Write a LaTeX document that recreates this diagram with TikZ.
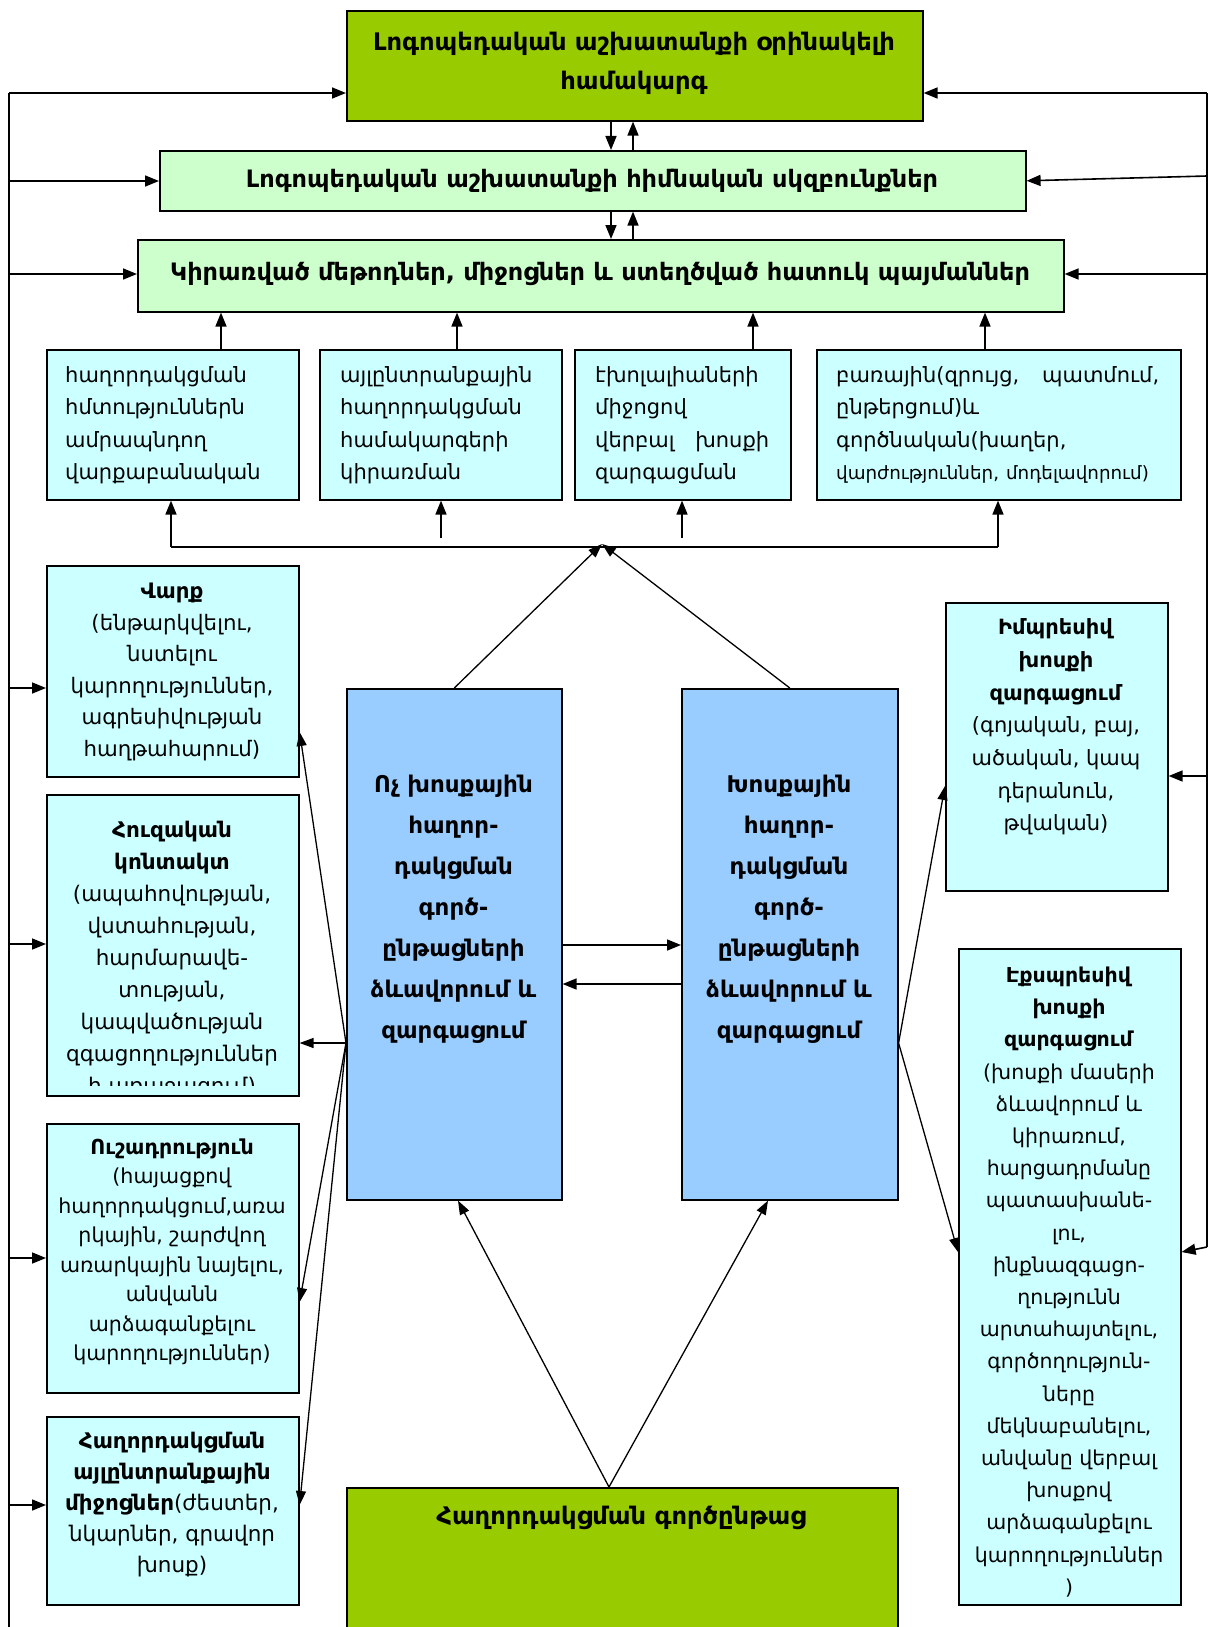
\documentclass[tikz,border=0pt]{standalone}
\usepackage{fontspec}
\setmainfont{DejaVu Sans}
\usetikzlibrary{arrows.meta,calc}
\definecolor{dgreen}{HTML}{99CC00}
\definecolor{lgreen}{HTML}{CCFFCC}
\definecolor{lcyan}{HTML}{CCFFFF}
\definecolor{lblue}{HTML}{99CCFF}
\begin{document}
\begin{tikzpicture}[x=1pt,y=-1pt,
  boxn/.style={draw, line width=1.6pt, inner sep=0pt, anchor=north west},
  conn/.style={line width=1.6pt},
  arr/.style={line width=1.6pt, -{Triangle[length=14pt,width=11pt]}},
  farr/.style={line width=1.3pt, -{Triangle[length=14pt,width=10pt]}},
  txt/.style={inner sep=0pt, align=center, font=\fontsize{21}{31.5}\selectfont},
  ltxt/.style={inner sep=0pt, align=left, anchor=west, font=\fontsize{21}{32.5}\selectfont},
  htxt/.style={inner sep=0pt, align=center, font=\bfseries\fontsize{24.2}{39}\selectfont},
  ctxt/.style={inner sep=0pt, align=center, font=\bfseries\fontsize{23}{41}\selectfont},
]
\useasboundingbox (0,0) rectangle (1209,1627);

% ---------- boxes ----------
\node[boxn, fill=dgreen, minimum width=576pt, minimum height=110pt] (top) at (346,10) {};
\node[boxn, fill=lgreen, minimum width=866pt, minimum height=60pt] (b2) at (159,150) {};
\node[boxn, fill=lgreen, minimum width=926pt, minimum height=72pt] (b3) at (137,239) {};
\node[boxn, fill=lcyan, minimum width=252pt, minimum height=150pt] (r1) at (46,349) {};
\node[boxn, fill=lcyan, minimum width=242pt, minimum height=150pt] (r2) at (319,349) {};
\node[boxn, fill=lcyan, minimum width=216pt, minimum height=150pt] (r3) at (574,349) {};
\node[boxn, fill=lcyan, minimum width=364pt, minimum height=150pt] (r4) at (816,349) {};
\node[boxn, fill=lcyan, minimum width=252pt, minimum height=211pt] (varq) at (46,565) {};
\node[boxn, fill=lcyan, minimum width=252pt, minimum height=301pt] (hug) at (46,794) {};
\node[boxn, fill=lcyan, minimum width=252pt, minimum height=269pt] (ush) at (46,1123) {};
\node[boxn, fill=lcyan, minimum width=252pt, minimum height=188pt] (hagh) at (46,1416) {};
\node[boxn, fill=lblue, minimum width=215pt, minimum height=511pt] (bl) at (346,688) {};
\node[boxn, fill=lblue, minimum width=216pt, minimum height=511pt] (br) at (681,688) {};
\node[boxn, fill=dgreen, minimum width=551pt, minimum height=160pt] (gb) at (346,1487) {};
\node[boxn, fill=lcyan, minimum width=222pt, minimum height=288pt] (imp) at (945,602) {};
\node[boxn, fill=lcyan, minimum width=222pt, minimum height=656pt] (exp) at (958,948) {};

% ---------- texts ----------
\node[htxt] (ttop) at (634,63) {Լոգոպեդական աշխատանքի օրինակելի\\համակարգ};
\node[htxt, font=\bfseries\fontsize{24}{39}\selectfont] (tb2) at (592,181) {Լոգոպեդական աշխատանքի հիմնական սկզբունքներ};
\node[htxt, font=\bfseries\fontsize{24}{39}\selectfont] (tb3) at (600,274) {Կիրառված մեթոդներ, միջոցներ և ստեղծված հատուկ պայմաններ};
\node[ltxt, text width=225pt] (tr1) at (65,425) {հաղորդակցման\\հմտություններն\\ամրապնդող\\վարքաբանական};
\node[ltxt, text width=218pt] (tr2) at (340,425) {այլընտրանքային\\հաղորդակցման\\համակարգերի\\կիրառման};
\node[ltxt, text width=174pt] (tr3) at (595,425) {էխոլալիաների\\միջոցով\\վերբալ\hfill խոսքի\\զարգացման};
\node[ltxt, text width=323pt] (tr4) at (836,425) {բառային(զրույց,\hfill պատմում,\\ընթերցում)և\\գործնական(խաղեր,\\{\fontsize{18.3}{20}\selectfont վարժություններ, մոդելավորում)}};
\node[txt, font=\fontsize{21.3}{31.5}\selectfont] (tvarq) at (172,672) {\textbf{Վարք}\\(ենթարկվելու,\\նստելու\\կարողություններ,\\ագրեսիվության\\հաղթահարում)};
\begin{scope}
\clip (hug.north west) rectangle (298,1085);
\node[txt, font=\fontsize{21.5}{32}\selectfont] (thug) at (172,960) {\textbf{Հուզական}\\\textbf{կոնտակտ}\\(ապահովության,\\վստահության,\\հարմարավե-\\տության,\\կապվածության\\զգացողություններ\\ի առաջացում)};
\end{scope}
\node[txt, font=\fontsize{20.6}{29.5}\selectfont] (tush) at (172,1252) {\textbf{Ուշադրություն}\\(հայացքով\\հաղորդակցում,առա\\րկային, շարժվող\\առարկային նայելու,\\անվանն\\արձագանքելու\\կարողություններ)};
\node[txt, font=\fontsize{21.5}{31}\selectfont] (thagh) at (172,1505) {\textbf{Հաղորդակցման}\\\textbf{այլընտրանքային}\\\textbf{միջոցներ}(ժեստեր,\\նկարներ, գրավոր\\խոսք)};
\node[ctxt] (tbl) at (453.5,909) {Ոչ խոսքային\\հաղոր-\\դակցման\\գործ-\\ընթացների\\ձևավորում և\\զարգացում};
\node[ctxt] (tbr) at (789,909) {Խոսքային\\հաղոր-\\դակցման\\գործ-\\ընթացների\\ձևավորում և\\զարգացում};
\node[htxt] (tgb) at (621,1518) {Հաղորդակցման գործընթաց};
\node[txt, font=\fontsize{21}{32.7}\selectfont] (timp) at (1056,727) {\textbf{Իմպրեսիվ}\\\textbf{խոսքի}\\\textbf{զարգացում}\\(գոյական, բայ,\\ածական, կապ\\դերանուն,\\թվական)};
\node[txt, font=\fontsize{20.5}{32.2}\selectfont] (texp) at (1069,1282) {\textbf{Էքսպրեսիվ}\\\textbf{խոսքի}\\\textbf{զարգացում}\\(խոսքի մասերի\\ձևավորում և\\կիրառում,\\հարցադրմանը\\պատասխանե-\\լու,\\ինքնազգացո-\\ղությունն\\արտահայտելու,\\գործողություն-\\ները\\մեկնաբանելու,\\անվանը վերբալ\\խոսքով\\արձագանքելու\\կարողություններ\\)};

% ---------- helper coordinates ----------
\coordinate (x611) at (611,0); \coordinate (x633) at (633,0);
\coordinate (x221) at (221,0); \coordinate (x457) at (457,0);
\coordinate (x753) at (753,0); \coordinate (x985) at (985,0);
\coordinate (x609) at (609,0); \coordinate (x458) at (458,0); \coordinate (x768) at (768,0);
\coordinate (y732) at (0,732); \coordinate (y1043) at (0,1043);
\coordinate (y1302) at (0,1302); \coordinate (y1505) at (0,1505);
\coordinate (y945) at (0,945); \coordinate (y984) at (0,984);
\coordinate (y786) at (0,786); \coordinate (y1252) at (0,1252);

% ---------- top column arrows ----------
\draw[arr] (top.south -| x611) -- (b2.north -| x611);
\draw[arr] (b2.north -| x633) -- (top.south -| x633);
\draw[arr] (b2.south -| x611) -- (b3.north -| x611);
\draw[arr] (b3.north -| x633) -- (b2.south -| x633);

% ---------- row boxes up to b3 ----------
\draw[arr] (r1.north -| x221) -- (b3.south -| x221);
\draw[arr] (r2.north -| x457) -- (b3.south -| x457);
\draw[arr] (r3.north -| x753) -- (b3.south -| x753);
\draw[arr] (r4.north -| x985) -- (b3.south -| x985);

% ---------- distribution line ----------
\coordinate (hl) at (171,547);
\coordinate (hr) at (998,547);
\coordinate (jn) at (602,544);
\coordinate (s2) at (441,538);
\coordinate (s3) at (682,538);
\draw[conn] (hl) -- (hr);
\draw[arr] (hl) -- (r1.south -| hl);
\draw[arr] (hr) -- (r4.south -| hr);
\draw[arr] (s2) -- (r2.south -| s2);
\draw[arr] (s3) -- (r3.south -| s3);
\draw[farr] (bl.north) -- (jn);
\draw[farr] (br.north) -- (jn);

% ---------- between blue boxes ----------
\draw[arr] (bl.east |- y945) -- (br.west |- y945);
\draw[arr] (br.west |- y984) -- (bl.east |- y984);

% ---------- bottom ----------
\draw[farr] (gb.north -| x609) -- (bl.south -| x458);
\draw[farr] (gb.north -| x609) -- (br.south -| x768);

% ---------- fans ----------
\draw[farr] (bl.west |- y1043) -- (varq.east |- y732);
\draw[farr] (bl.west |- y1043) -- (hug.east |- y1043);
\draw[farr] (bl.west |- y1043) -- (ush.east |- y1302);
\draw[farr] (bl.west |- y1043) -- (hagh.east |- y1505);
\draw[farr] (br.east |- y1043) -- (imp.west |- y786);
\draw[farr] (br.east |- y1043) -- (exp.west |- y1252);

% ---------- left rail ----------
\coordinate (L1) at (9,93); \coordinate (L2) at (9,181); \coordinate (L3) at (9,274);
\coordinate (L4) at (9,688); \coordinate (L5) at (9,944); \coordinate (L6) at (9,1258);
\coordinate (L7) at (9,1505); \coordinate (Lend) at (9,1627);
\draw[conn] (L1) -- (Lend);
\draw[arr] (L1) -- (top.west |- L1);
\draw[arr] (L2) -- (b2.west |- L2);
\draw[arr] (L3) -- (b3.west |- L3);
\draw[arr] (L4) -- (varq.west |- L4);
\draw[arr] (L5) -- (hug.west |- L5);
\draw[arr] (L6) -- (ush.west |- L6);
\draw[arr] (L7) -- (hagh.west |- L7);

% ---------- right rail ----------
\coordinate (R1) at (1207,93); \coordinate (R2) at (1207,176); \coordinate (R3) at (1207,274);
\coordinate (R4) at (1207,776); \coordinate (R5) at (1207,1247);
\draw[conn] (R1) -- (R5);
\draw[arr] (R1) -- (top.east |- R1);
\draw[arr] (R2) -- (b2.east);
\draw[arr] (R3) -- (b3.east |- R3);
\draw[arr] (R4) -- (imp.east |- R4);
\draw[arr] (R5) -- (exp.east |- y1252);
\end{tikzpicture}
\end{document}
